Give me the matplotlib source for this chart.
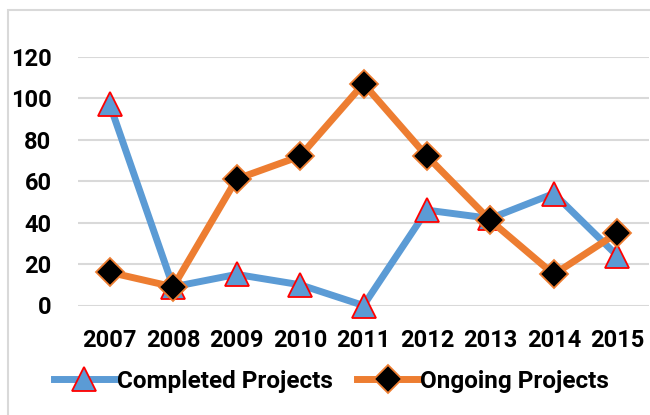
import matplotlib
matplotlib.use("Agg")
import matplotlib.pyplot as plt
from matplotlib.patches import Rectangle

# project counts per year
years = ['2007', '2008', '2009', '2010', '2011', '2012', '2013', '2014', '2015']
completed = [97, 9, 15, 10, 0, 46, 42, 54, 24]
ongoing = [16, 9, 61, 72, 107, 72, 41, 15, 35]
y_ticks = [0, 20, 40, 60, 80, 100, 120]

plt.rcParams['font.family'] = ['Roboto', 'DejaVu Sans']
plt.rcParams['font.weight'] = 'bold'

fig = plt.figure(figsize=(6.5, 4.15), dpi=100)
# chart border
fig.patches.append(Rectangle((8 / 650, -0.1), 1.2, 1 - 10 / 415 + 0.1, transform=fig.transFigure,
                             fill=False, edgecolor='#D9D9D9', linewidth=1.5))

ax = fig.add_axes([78 / 650, 1 - 305.5 / 415, 571 / 650, (305.5 - 56.7) / 415])
x = range(len(years))
ax.plot(x, completed, color='#5B9BD5', linewidth=5, marker='^', markersize=17,
        markerfacecolor='#5B9BD5', markeredgecolor='#FF0000', markeredgewidth=1.3,
        label='Completed Projects', zorder=3, clip_on=False)
ax.plot(x, ongoing, color='#ED7D31', linewidth=5, marker='D', markersize=14,
        markerfacecolor='black', markeredgecolor='#ED7D31', markeredgewidth=1.3,
        label='Ongoing Projects', zorder=4, clip_on=False)

ax.set_xlim(-0.5, len(years) - 0.5)
ax.set_ylim(0, 120)
ax.set_yticks(y_ticks)
ax.set_xticks(list(x))
ax.set_xticklabels(years)
ax.tick_params(axis='both', length=0, labelsize=17)
ax.tick_params(axis='y', pad=19)
ax.tick_params(axis='x', pad=17)
for lbl in ax.get_xticklabels() + ax.get_yticklabels():
    lbl.set_fontweight('bold')
ax.grid(axis='y', color='#D9D9D9', linewidth=1.5)
ax.set_axisbelow(True)
for s in ax.spines.values():
    s.set_visible(False)

leg = fig.legend(loc='center', bbox_to_anchor=(0.51, 1 - 381 / 415), ncol=2, frameon=False,
                 fontsize=17.5, handlelength=2.5, handletextpad=0.1, columnspacing=1.0)
for t in leg.get_texts():
    t.set_fontweight('bold')

fig.savefig('out.png', dpi=100)
